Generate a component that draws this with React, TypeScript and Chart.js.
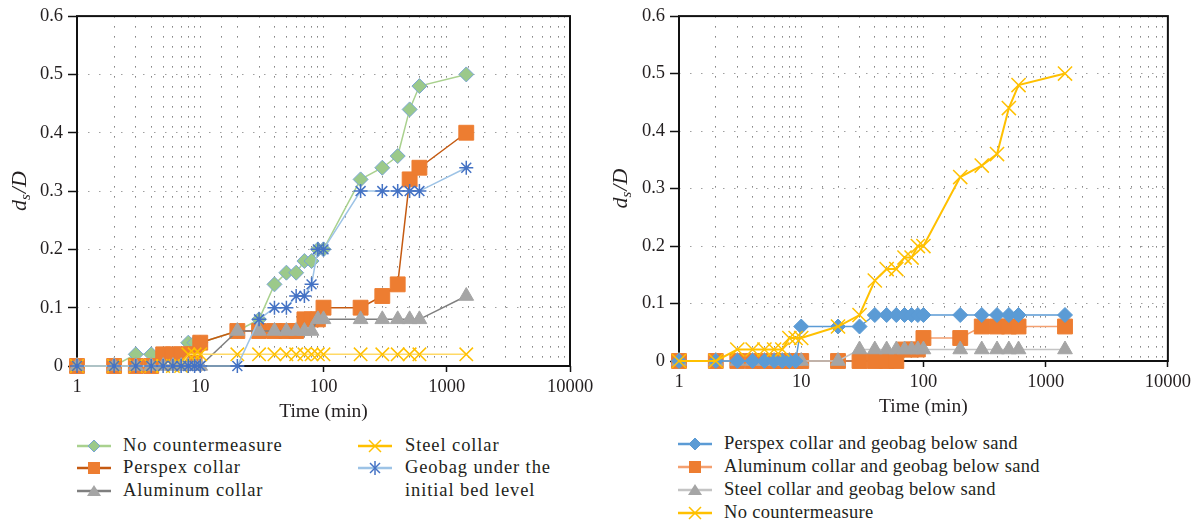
import React, { useEffect, useRef } from 'react';
import { Chart, registerables } from 'chart.js';

Chart.register(...registerables);

// ---------- data ----------
const TIMES = [1, 2, 3, 4, 5, 6, 7, 8, 9, 10, 20, 30, 40, 50, 60, 70, 80, 90, 100, 200, 300, 400, 500, 600, 1440];

// left panel
const L_NO_COUNTER = [0, 0, 0.02, 0.02, 0.02, 0.02, 0.02, 0.04, 0.04, 0.04, 0.06, 0.08, 0.14, 0.16, 0.16, 0.18, 0.18, 0.2, 0.2, 0.32, 0.34, 0.36, 0.44, 0.48, 0.5];
const L_PERSPEX = [0, 0, 0, 0, 0.02, 0.02, 0.02, 0.02, 0.02, 0.04, 0.06, 0.06, 0.06, 0.06, 0.06, 0.08, 0.08, 0.08, 0.1, 0.1, 0.12, 0.14, 0.32, 0.34, 0.4];
const L_ALUMINUM = [0, 0, 0, 0, 0, 0, 0, 0, 0, 0, 0.06, 0.06, 0.06, 0.06, 0.06, 0.06, 0.06, 0.08, 0.08, 0.08, 0.08, 0.08, 0.08, 0.08, 0.12];
const L_STEEL = [0, 0, 0, 0, 0, 0, 0, 0.02, 0.02, 0.02, 0.02, 0.02, 0.02, 0.02, 0.02, 0.02, 0.02, 0.02, 0.02, 0.02, 0.02, 0.02, 0.02, 0.02, 0.02];
const L_GEOBAG = [0, 0, 0, 0, 0, 0, 0, 0, 0, 0, 0, 0.08, 0.1, 0.1, 0.12, 0.12, 0.14, 0.2, 0.2, 0.3, 0.3, 0.3, 0.3, 0.3, 0.34];

// right panel
const R_PERSPEX_GEO = [0, 0, 0, 0, 0, 0, 0, 0, 0, 0.06, 0.06, 0.06, 0.08, 0.08, 0.08, 0.08, 0.08, 0.08, 0.08, 0.08, 0.08, 0.08, 0.08, 0.08, 0.08];
const R_ALUMINUM_GEO = [0, 0, 0, 0, 0, 0, 0, 0, 0, 0, 0, 0, 0, 0, 0, 0.02, 0.02, 0.02, 0.04, 0.04, 0.06, 0.06, 0.06, 0.06, 0.06];
const R_STEEL_GEO = [0, 0, 0, 0, 0, 0, 0, 0, 0, 0, 0, 0.02, 0.02, 0.02, 0.02, 0.02, 0.02, 0.02, 0.02, 0.02, 0.02, 0.02, 0.02, 0.02, 0.02];
const R_NO_COUNTER = [0, 0, 0.02, 0.02, 0.02, 0.02, 0.02, 0.04, 0.04, 0.04, 0.06, 0.08, 0.14, 0.16, 0.16, 0.18, 0.18, 0.2, 0.2, 0.32, 0.34, 0.36, 0.44, 0.48, 0.5];

const X_MIN = 1;
const X_MAX = 10000;
const Y_MIN = 0;
const Y_MAX = 0.6;
const Y_STEP = 0.1;

const X_TITLE = 'Time (min)';

const TEXT = '#231f20';
const SERIF = '"Liberation Serif", "Times New Roman", serif';

type Series = {
  label: string;
  data: number[];
  line: string;
  lineWidth: number;
  style: string;
  radius: number;
  fill: string;
  stroke: string;
  bw: number;
};

// drawn top-first
const LEFT_SERIES: Series[] = [
  { label: 'Geobag under the initial bed level', data: L_GEOBAG, line: '#9dc3e6', lineWidth: 1.5, style: 'star', radius: 7, fill: '#4472c4', stroke: '#4472c4', bw: 1.5 },
  { label: 'Steel collar', data: L_STEEL, line: '#ffd966', lineWidth: 1.5, style: 'crossRot', radius: 9.5, fill: '#ffc000', stroke: '#ffc000', bw: 1.5 },
  { label: 'Aluminum collar', data: L_ALUMINUM, line: '#7f7f7f', lineWidth: 1.5, style: 'triangle', radius: 8.5, fill: '#a5a5a5', stroke: '#a5a5a5', bw: 1 },
  { label: 'Perspex collar', data: L_PERSPEX, line: '#c55a11', lineWidth: 1.5, style: 'rect', radius: 10.5, fill: '#ed7d31', stroke: '#ed7d31', bw: 1 },
  { label: 'No countermeasure', data: L_NO_COUNTER, line: '#a9d18e', lineWidth: 1.5, style: 'rectRot', radius: 7.5, fill: '#9bc98a', stroke: '#7aa6d3', bw: 1 },
];

const RIGHT_SERIES: Series[] = [
  { label: 'No countermeasure', data: R_NO_COUNTER, line: '#ffc000', lineWidth: 2, style: 'crossRot', radius: 10, fill: '#ffc000', stroke: '#ffc000', bw: 1.5 },
  { label: 'Perspex collar and geobag below sand', data: R_PERSPEX_GEO, line: '#5b9bd5', lineWidth: 1.5, style: 'rectRot', radius: 7.5, fill: '#5b9bd5', stroke: '#5b9bd5', bw: 1 },
  { label: 'Steel collar and geobag below sand', data: R_STEEL_GEO, line: '#c4c4c4', lineWidth: 1.5, style: 'triangle', radius: 8.5, fill: '#a5a5a5', stroke: '#a5a5a5', bw: 1 },
  { label: 'Aluminum collar and geobag below sand', data: R_ALUMINUM_GEO, line: '#f4a070', lineWidth: 1.5, style: 'rect', radius: 10.5, fill: '#ed7d31', stroke: '#ed7d31', bw: 1 },
];

// ---------- plugins ----------
const framePlugin = {
  id: 'frame',
  beforeDatasetsDraw(chart: any) {
    const { ctx, chartArea: a } = chart;
    ctx.save();
    ctx.strokeStyle = '#111';
    ctx.lineWidth = 2;
    ctx.strokeRect(a.left, a.top, a.right - a.left, a.bottom - a.top);
    ctx.restore();
  },
};

const yTitlePlugin = {
  id: 'yTitle',
  afterDraw(chart: any, _args: any, opts: any) {
    const { ctx, chartArea: a } = chart;
    const cx = opts.x;
    const cy = (a.top + a.bottom) / 2;
    ctx.save();
    ctx.translate(cx, cy);
    ctx.rotate(-Math.PI / 2);
    ctx.fillStyle = TEXT;
    ctx.textBaseline = 'alphabetic';
    ctx.textAlign = 'left';
    const big = `italic 22px ${SERIF}`;
    const small = `italic 15px ${SERIF}`;
    ctx.font = big;
    const wd = ctx.measureText('d').width;
    const wr = ctx.measureText('/D').width;
    ctx.font = small;
    const ws = ctx.measureText('s').width;
    const total = wd + ws + wr + 1;
    let x = -total / 2;
    const base = 7;
    ctx.font = big;
    ctx.fillText('d', x, base);
    x += wd;
    ctx.font = small;
    ctx.fillText('s', x, base + 4);
    x += ws + 1;
    ctx.font = big;
    ctx.fillText('/D', x, base);
    ctx.restore();
  },
};

const isMajor = (v: number) => Math.abs(Math.log10(v) - Math.round(Math.log10(v))) < 1e-9;

type Area = { left: number; right: number; top: number; bottom: number };

function ChartPanel({ series, width, height, area, yTitleX, style }: { series: Series[]; width: number; height: number; area: Area; yTitleX: number; style: React.CSSProperties }) {
  const ref = useRef<HTMLCanvasElement | null>(null);
  useEffect(() => {
    if (!ref.current) return;
    const chart = new Chart(ref.current, {
      type: 'line',
      data: {
        datasets: series.map((s) => ({
          label: s.label,
          data: TIMES.map((t, i) => ({ x: t, y: s.data[i] })),
          borderColor: s.line,
          borderWidth: s.lineWidth,
          backgroundColor: s.fill,
          pointStyle: s.style as any,
          pointRadius: s.radius,
          pointBackgroundColor: s.fill,
          pointBorderColor: s.stroke,
          pointBorderWidth: s.bw,
          tension: 0,
          fill: false,
          clip: false as any,
        })),
      },
      options: {
        responsive: false,
        animation: false,
        events: [],
        layout: { padding: { left: 0, top: area.top, right: width - area.right, bottom: 0 } },
        plugins: {
          legend: { display: false },
          tooltip: { enabled: false },
          yTitle: { x: yTitleX },
        } as any,
        scales: {
          x: {
            type: 'logarithmic',
            min: X_MIN,
            max: X_MAX,
            afterFit: (s: any) => {
              s.height = height - area.bottom;
            },
            border: { display: false, dash: [1.5, 8.5] },
            grid: {
              color: (c: any) => (c.tick && (c.tick.value === X_MIN || c.tick.value === X_MAX) ? 'rgba(0,0,0,0)' : 'rgba(80,80,80,0.75)'),
              lineWidth: 1,
              drawTicks: true,
              tickLength: 6,
              tickColor: (c: any) => (c.tick && isMajor(c.tick.value) ? '#111' : 'rgba(0,0,0,0)'),
              tickBorderDash: [],
              tickWidth: 1.5,
            } as any,
            ticks: {
              autoSkip: false,
              maxRotation: 0,
              padding: 4,
              color: TEXT,
              font: { family: SERIF, size: 18.5 },
              callback: (v: any) => (isMajor(Number(v)) ? String(Math.round(Number(v))) : ''),
            },
            title: {
              display: true,
              text: X_TITLE,
              color: TEXT,
              font: { family: SERIF, size: 19.5 },
              padding: { top: 0, bottom: 0 },
            },
          },
          y: {
            type: 'linear',
            min: Y_MIN,
            max: Y_MAX,
            afterFit: (s: any) => {
              s.width = area.left;
            },
            border: { display: false, dash: [1.5, 9.5] },
            grid: {
              color: (c: any) => (c.tick && (c.tick.value === Y_MIN || Math.abs(c.tick.value - Y_MAX) < 1e-9) ? 'rgba(0,0,0,0)' : 'rgba(120,120,120,0.7)'),
              lineWidth: 1,
              drawTicks: true,
              tickLength: 9,
              tickColor: '#111',
              tickBorderDash: [],
              tickWidth: 1.5,
            } as any,
            ticks: {
              stepSize: Y_STEP,
              padding: 5,
              color: TEXT,
              font: { family: SERIF, size: 18.5 },
              callback: (v: any) => (Number(v) === 0 ? '0' : Number(v).toFixed(1)),
            },
          },
        },
      },
      plugins: [framePlugin, yTitlePlugin],
    });
    return () => chart.destroy();
  }, []);
  return <canvas ref={ref} width={width} height={height} style={{ position: 'absolute', width, height, ...style }} />;
}

function Icon({ s }: { s: Series }) {
  let marker: React.ReactNode = null;
  if (s.style === 'rectRot') marker = <polygon points="17,2 23,8 17,14 11,8" fill={s.fill} stroke={s.stroke} strokeWidth={1} />;
  else if (s.style === 'rect') marker = <rect x={11} y={2} width={12} height={12} fill={s.fill} />;
  else if (s.style === 'triangle') marker = <polygon points="17,2 24,13 10,13" fill={s.fill} />;
  else if (s.style === 'crossRot')
    marker = (
      <g stroke={s.stroke} strokeWidth={1.5}>
        <line x1={11} y1={2} x2={23} y2={14} />
        <line x1={23} y1={2} x2={11} y2={14} />
      </g>
    );
  else if (s.style === 'star')
    marker = (
      <g stroke={s.stroke} strokeWidth={1.5}>
        <line x1={12} y1={3} x2={22} y2={13} />
        <line x1={22} y1={3} x2={12} y2={13} />
        <line x1={17} y1={1} x2={17} y2={15} />
      </g>
    );
  return (
    <svg width={34} height={16} style={{ display: 'block' }}>
      <line x1={0} y1={8} x2={34} y2={8} stroke={s.style === 'crossRot' ? s.stroke : s.line} strokeWidth={2.5} />
      {marker}
    </svg>
  );
}

type LegendItem = { s: Series; lines: string[]; iconX: number; textX: number; cy: number };

function Legend({ items, spacing }: { items: LegendItem[]; spacing: number }) {
  return (
    <>
      {items.map((it, i) => (
        <React.Fragment key={i}>
          <div style={{ position: 'absolute', left: it.iconX, top: it.cy - 8 }}>
            <Icon s={it.s} />
          </div>
          <div
            style={{
              position: 'absolute',
              left: it.textX,
              top: it.cy - 12,
              fontFamily: SERIF,
              fontSize: 18.5,
              lineHeight: '23px',
              letterSpacing: `${spacing}px`,
              color: TEXT,
              whiteSpace: 'nowrap',
            }}
          >
            {it.lines.map((l, j) => (
              <div key={j}>{l}</div>
            ))}
          </div>
        </React.Fragment>
      ))}
    </>
  );
}

export default function App() {
  const L = (label: string) => LEFT_SERIES.find((s) => s.label === label)!;
  const R = (label: string) => RIGHT_SERIES.find((s) => s.label === label)!;
  const leftItems: LegendItem[] = [
    { s: L('No countermeasure'), lines: ['No countermeasure'], iconX: 77, textX: 123, cy: 446 },
    { s: L('Perspex collar'), lines: ['Perspex collar'], iconX: 77, textX: 123, cy: 468 },
    { s: L('Aluminum collar'), lines: ['Aluminum collar'], iconX: 77, textX: 123, cy: 491 },
    { s: L('Steel collar'), lines: ['Steel collar'], iconX: 358, textX: 405, cy: 446 },
    { s: L('Geobag under the initial bed level'), lines: ['Geobag under the', 'initial bed level'], iconX: 358, textX: 405, cy: 468 },
  ];
  const rightItems: LegendItem[] = [
    { s: R('Perspex collar and geobag below sand'), lines: ['Perspex collar and geobag below sand'], iconX: 678, textX: 724, cy: 444 },
    { s: R('Aluminum collar and geobag below sand'), lines: ['Aluminum collar and geobag below sand'], iconX: 678, textX: 724, cy: 467 },
    { s: R('Steel collar and geobag below sand'), lines: ['Steel collar and geobag below sand'], iconX: 678, textX: 724, cy: 490 },
    { s: R('No countermeasure'), lines: ['No countermeasure'], iconX: 678, textX: 724, cy: 513 },
  ];
  return (
    <div style={{ position: 'absolute', left: 0, top: 0, width: 1195, height: 526, background: '#fff', overflow: 'hidden' }}>
      <ChartPanel series={LEFT_SERIES} width={600} height={424} area={{ left: 77, right: 570, top: 15, bottom: 366 }} yTitleX={19} style={{ left: 0, top: 0 }} />
      <ChartPanel series={RIGHT_SERIES} width={595} height={419} area={{ left: 79, right: 572, top: 14, bottom: 361 }} yTitleX={20} style={{ left: 600, top: 0 }} />
      <Legend items={leftItems} spacing={0.9} />
      <Legend items={rightItems} spacing={0.3} />
    </div>
  );
}
